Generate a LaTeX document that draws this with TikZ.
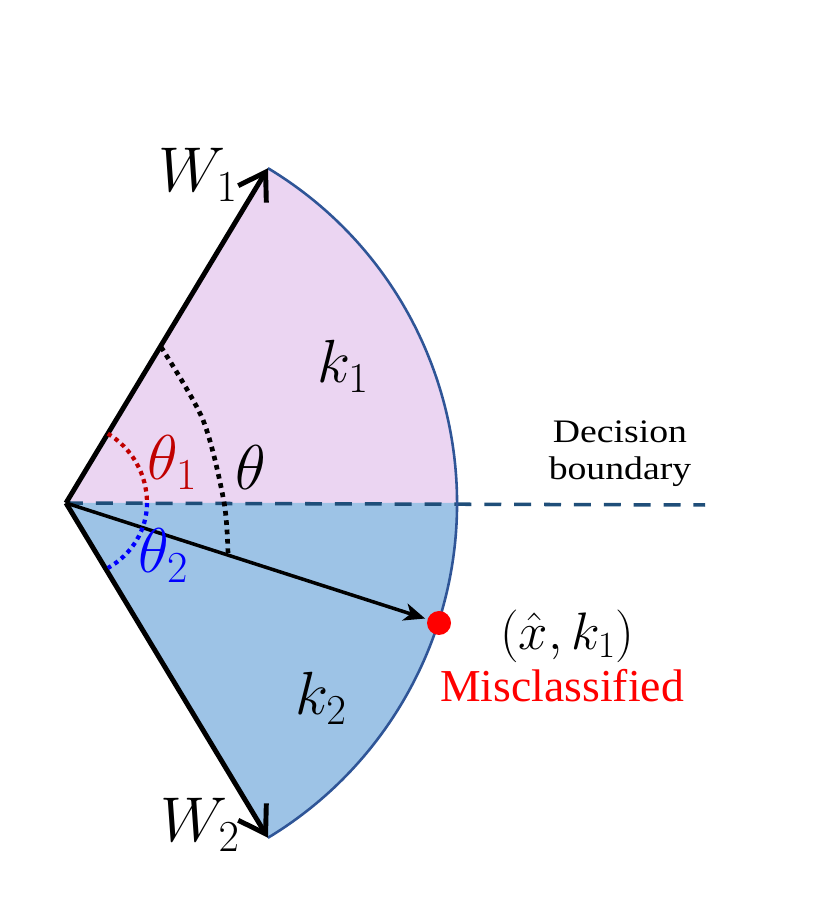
\RequirePackage{fix-cm}
\documentclass[tikz,border=0pt]{standalone}
\usepackage{fontspec}
\setmainfont{Liberation Serif}
\usetikzlibrary{arrows.meta}
\definecolor{pinkfill}{RGB}{235,213,242}
\definecolor{bluefill}{RGB}{157,195,230}
\definecolor{rimblue}{RGB}{47,85,151}
\definecolor{dashblue}{RGB}{31,78,121}
\definecolor{thetared}{RGB}{192,0,0}
\definecolor{thetablue}{RGB}{0,0,255}
\begin{document}
\begin{tikzpicture}[x=0.03cm,y=0.03cm,
  warrow/.style={line width=4.2pt,-{Straight Barb[length=22pt,width=28pt,line width=4.2pt]}},
  xarrow/.style={line width=3pt,-{Stealth[length=18pt,width=15pt,inset=5pt]},shorten >=2pt},
  rim/.style={rimblue,line width=2.2pt},
  boundary/.style={dashblue,line width=3pt,dash pattern=on 14.5pt off 11pt},
  blackdots/.style={black,line width=4pt,dash pattern=on 4pt off 4pt},
  reddots/.style={thetared,line width=3.6pt,dash pattern=on 3.6pt off 3.6pt},
  bluedots/.style={thetablue,line width=3.6pt,dash pattern=on 3.6pt off 3.6pt},
  mathlbl/.style={inner sep=0pt,anchor=base west},
  txt/.style={inner sep=0pt}]
\useasboundingbox (0,0) rectangle (830,907);
\coordinate (O) at (66,404);
\path (O) ++(58.9:391) coordinate (T1);
\path (O) ++(-58.9:391) coordinate (T2);
\path (O) ++(0:391) coordinate (B);
\path (O) ++(58.9:81) coordinate (R1);
\path (O) ++(0:81) coordinate (R0);
\coordinate (E) at (705,402);
% sectors
\fill[pinkfill] (O) -- (T1) arc[start angle=58.9,end angle=0,radius=391] -- cycle;
\fill[bluefill] (O) -- (B) arc[start angle=0,end angle=-58.9,radius=391] -- cycle;
\draw[boundary] (O) -- (E);
\draw[rim] (T1) arc[start angle=58.9,end angle=-58.9,radius=391];
% red dot and arrows
\node[circle,fill=red,minimum size=0.72cm,inner sep=0pt] (xdot) at (439,284) {};
\draw[warrow] (O) -- (T1);
\draw[warrow] (O) -- (T2);
\draw[xarrow] (O) -- (xdot);
% angle marks
\draw[blackdots] plot[smooth] coordinates {(161,560) (203,487) (224,405) (228,352)};
\draw[reddots] (R1) arc[start angle=58.9,end angle=0,radius=81];
\draw[bluedots] (R0) arc[start angle=0,end angle=-58.9,x radius=81,y radius=76];
% labels
\node[mathlbl] (lw1) at (158,715) {\fontsize{54}{60}\selectfont $W_1$};
\node[mathlbl] (lw2) at (160,65) {\fontsize{54}{60}\selectfont $W_2$};
\node[mathlbl] (lk1) at (317,524) {\fontsize{52}{58}\selectfont $k_1$};
\node[mathlbl] (lk2) at (295,192) {\fontsize{52}{58}\selectfont $k_2$};
\node[mathlbl,text=thetared] (lt1) at (147,427) {\fontsize{54}{60}\selectfont $\theta_1$};
\node[mathlbl] (lt) at (235,417) {\fontsize{54}{60}\selectfont $\theta$};
\node[mathlbl,text=thetablue] (lt2) at (138,334) {\fontsize{54}{60}\selectfont $\theta_2$};
\node[mathlbl] (lx) at (500,257) {\fontsize{45}{50}\selectfont $(\hat{x},k_1)$};
\node[txt,align=center,xscale=1.15,font=\fontsize{28}{31.5}\selectfont] (dec) at (620,453) {Decision\\boundary};
\node[txt,anchor=base,text=red,text height=0.7em,font=\fontsize{39}{44}\selectfont] (mis) at (562,205) {Misclassified};
\end{tikzpicture}
\end{document}
